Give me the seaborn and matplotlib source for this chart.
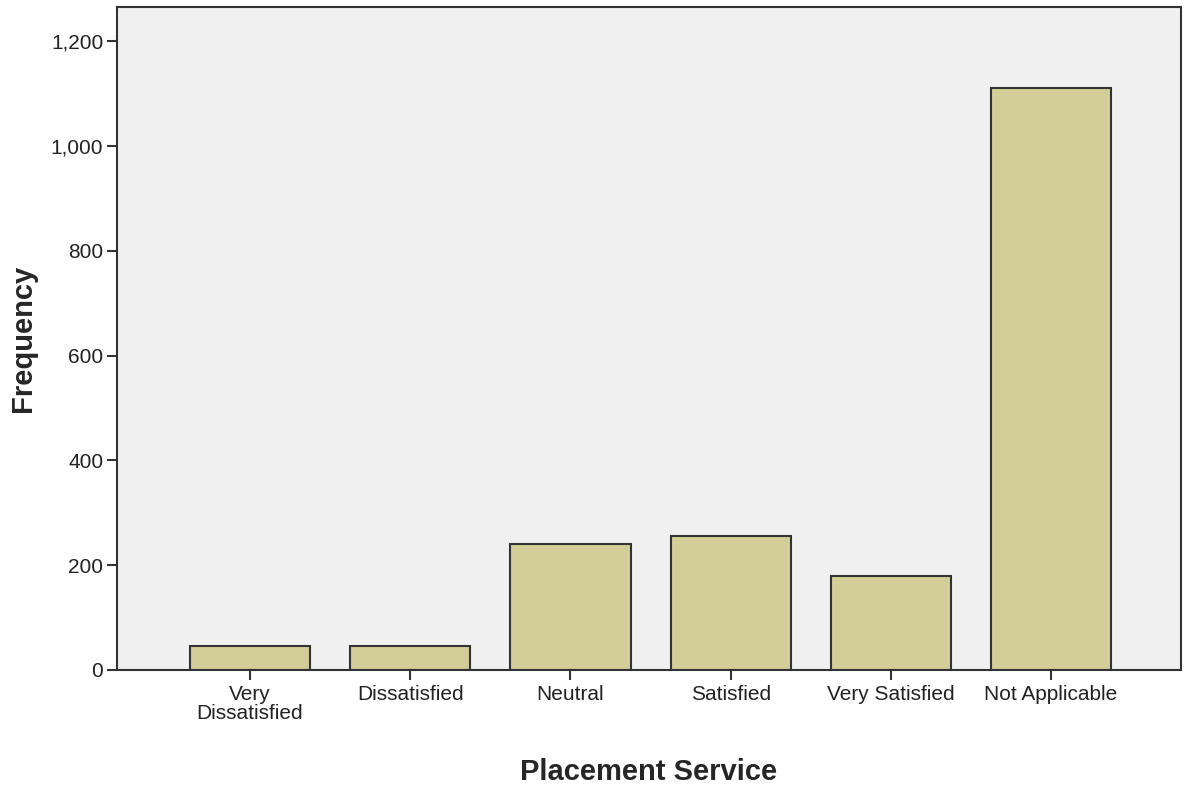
import matplotlib
matplotlib.use("Agg")
import matplotlib.pyplot as plt
import seaborn as sns
from matplotlib.ticker import FuncFormatter

# Satisfaction with the placement service (frequencies)
categories = ["Very\nDissatisfied", "Dissatisfied", "Neutral", "Satisfied",
              "Very Satisfied", "Not Applicable"]
counts = [45, 45, 240, 256, 179, 1110]

sns.set_style("white")
plt.rcParams["font.family"] = ["Liberation Sans", "DejaVu Sans"]

fig = plt.figure(figsize=(11.88, 7.87), dpi=100)
ax = fig.add_axes([0.0985, 0.1487, 0.8955, 0.8424])
ax.set_facecolor("#F0F0F0")

sns.barplot(x=categories, y=counts, color="#D3CE97", saturation=1,
            edgecolor="#333333", linewidth=1.5, width=0.75, ax=ax)

ax.set_xlim(-0.83, 5.81)
ax.set_ylim(0, 1265)
ax.set_yticks([0, 200, 400, 600, 800, 1000, 1200])
ax.yaxis.set_major_formatter(FuncFormatter(lambda v, p: f"{int(v):,}"))

for side in ["left", "bottom", "top", "right"]:
    ax.spines[side].set_visible(True)
    ax.spines[side].set_color("#333333")
    ax.spines[side].set_linewidth(1.5)

ax.tick_params(axis="both", direction="out", length=7, width=1.5,
               bottom=True, left=True,
               color="#333333", labelsize=15, labelcolor="#222222", pad=3)
ax.tick_params(axis="x", pad=4)
for lbl in ax.get_xticklabels():
    lbl.set_linespacing(1.0)

ax.set_xlabel("Placement Service", fontsize=21, fontweight="bold", labelpad=25)
ax.set_ylabel("Frequency", fontsize=21, fontweight="bold", labelpad=10)

fig.savefig("out.png", dpi=100)
